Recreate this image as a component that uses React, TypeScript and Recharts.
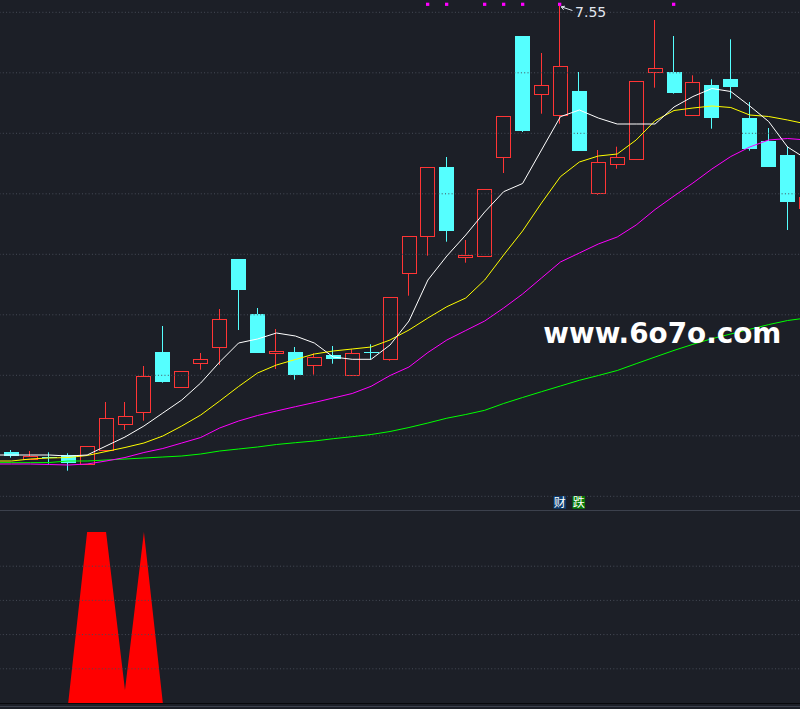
import React from 'react';
import { ComposedChart, Bar, Line, Area, XAxis, YAxis, ReferenceLine } from 'recharts';

// ---- data (index 0 is a lead-in day whose candle lies left of the window) ----
const days = ['d00','d01','d02','d03','d04','d05','d06','d07','d08','d09','d10','d11','d12','d13','d14','d15','d16','d17','d18','d19','d20','d21','d22','d23','d24','d25','d26','d27','d28','d29','d30','d31','d32','d33','d34','d35','d36','d37','d38','d39','d40','d41','d42','d43'];

const open = [null,3.09,3.023,3.045,3.063,2.973,3.107,3.367,3.487,4.09,3.737,3.977,4.137,5.02,4.47,4.077,4.09,3.963,4.06,3.863,4.09,4.017,4.877,5.247,5.94,5.043,5.053,6.037,7.25,6.673,6.463,6.70,5.677,5.967,6.023,6.887,6.89,6.463,6.76,6.82,6.43,6.20,6.06,5.527];
const close = [null,3.053,3.05,3.042,2.983,3.15,3.43,3.447,3.847,3.793,3.897,4.017,4.417,4.713,4.083,4.10,3.86,4.04,4.023,4.077,4.077,4.637,5.247,5.937,5.303,5.06,5.717,6.447,6.303,6.757,6.947,6.103,5.987,6.037,6.797,6.927,6.683,6.787,6.433,6.74,6.12,5.943,5.593,5.643];
const high = [null,3.11,3.10,3.087,3.077,3.15,3.59,3.59,3.95,4.35,3.897,4.08,4.52,5.02,4.53,4.32,4.14,4.077,4.15,4.117,4.167,4.637,5.247,5.937,6.04,5.21,5.717,6.447,7.25,7.08,7.55,6.89,6.11,6.143,6.797,7.41,7.25,6.857,6.817,7.217,6.59,6.33,6.143,5.643];
const low = [null,3.033,3.023,2.973,2.903,2.973,3.107,3.31,3.403,3.783,3.737,3.913,3.96,4.31,4.083,3.92,3.813,3.863,3.973,3.863,4.017,4.003,4.653,5.053,5.193,4.983,5.053,5.88,6.29,6.473,6.373,6.103,5.66,5.923,6.023,6.733,6.673,6.463,6.323,6.623,6.103,5.943,5.31,5.527];

const ma5 = [3.06,3.06,3.06,3.06,3.05,3.06,3.15,3.24,3.35,3.48,3.61,3.78,3.99,4.18,4.22,4.28,4.25,4.18,4.04,4.017,4.017,4.16,4.40,4.81,5.05,5.26,5.49,5.693,5.775,6.11,6.443,6.51,6.43,6.37,6.37,6.37,6.54,6.645,6.725,6.695,6.55,6.395,6.14,6.02];
const ma10 = [3.00,3.00,3.02,3.03,3.035,3.055,3.095,3.135,3.18,3.25,3.35,3.46,3.60,3.745,3.88,3.96,4.015,4.07,4.10,4.12,4.14,4.21,4.31,4.43,4.543,4.63,4.81,5.06,5.30,5.58,5.843,5.99,6.05,6.07,6.21,6.403,6.505,6.53,6.55,6.535,6.46,6.445,6.41,6.37];
const ma20 = [2.97,2.97,2.97,2.965,2.96,2.97,3.00,3.035,3.085,3.125,3.18,3.235,3.33,3.40,3.455,3.50,3.543,3.585,3.63,3.675,3.747,3.855,3.94,4.085,4.21,4.305,4.40,4.53,4.67,4.83,4.99,5.08,5.17,5.24,5.36,5.515,5.65,5.78,5.92,6.045,6.14,6.21,6.225,6.21];
const ma60 = [2.983,2.983,2.983,2.985,3.00,3.00,3.01,3.02,3.03,3.04,3.05,3.07,3.10,3.12,3.14,3.165,3.183,3.20,3.223,3.243,3.265,3.295,3.335,3.38,3.428,3.465,3.507,3.575,3.635,3.693,3.75,3.807,3.855,3.905,3.973,4.04,4.106,4.167,4.223,4.27,4.317,4.364,4.405,4.43];

const signal = [0,0,0,0,0,1,1,0.076,1,0,0,0,0,0,0,0,0,0,0,0,0,0,0,0,0,0,0,0,0,0,0,0,0,0,0,0,0,0,0,0,0,0,0,0];

const topMarkDays = ['d23','d24','d26','d27','d28','d30','d36'];
const topMarkLevel = 7.568;
const tagDays = ['d30','d31'];
const tagTexts = ['财','跌'];
const tagColors = ['#0b3b6e','#087a08'];
const tagLevel = 2.585;
const peakDay = 'd30';

const priceDomain = [2.51, 7.61];
const gridPrices = [7.487, 6.882, 6.277, 5.672, 5.067, 4.462, 3.857, 3.252, 2.647];
const signalDomain = [0, 1.1228];
const signalGrid = [0.2, 0.4, 0.6, 0.8];

// ---- styles ----
const BG = '#1c1f27';
const RED = '#ff3535';
const CYAN = '#55ffff';
const GRID = '#474c58';
const CHART_W = 833;
const HALF_BAND = CHART_W / days.length / 2;

const data = days.map((d, i) => {
  const ti = tagDays.indexOf(d);
  return {
    day: d,
    open: open[i], close: close[i], high: high[i], low: low[i],
    ma5: ma5[i], ma10: ma10[i], ma20: ma20[i], ma60: ma60[i],
    signal: signal[i],
    top: topMarkDays.includes(d) ? topMarkLevel : null,
    tag: ti >= 0 ? tagLevel : null,
    tagText: ti >= 0 ? tagTexts[ti] : null,
    tagColor: ti >= 0 ? tagColors[ti] : null,
    peak: d === peakDay ? high[i] : null,
  };
});

const Candle = (props: any) => {
  const { x, y, width, height, payload } = props;
  if (!payload || payload.open == null || y == null) return <g />;
  const { open: o, close: c, high: h, low: l } = payload;
  const top = Math.min(y, y + height);
  const span = Math.abs(height);
  const px = (v: number) => top + ((h - v) / (h - l)) * span;
  const cx = Math.round(x + width / 2) - 0.5;
  const up = c >= o;
  const yTop = px(Math.max(o, c));
  const yBot = px(Math.min(o, c));
  const yHigh = px(h);
  const yLow = px(l);
  const left = Math.round(x);
  const w = Math.round(width);
  if (up) {
    const bt = Math.round(yTop) + 0.5;
    const bb = Math.max(Math.round(yBot) + 0.5, bt + 1);
    return (
      <g>
        {yHigh < bt - 0.5 && <line x1={cx} x2={cx} y1={yHigh} y2={bt} stroke={RED} strokeWidth={1} />}
        {yLow > bb + 0.5 && <line x1={cx} x2={cx} y1={bb} y2={yLow} stroke={RED} strokeWidth={1} />}
        <rect x={left + 0.5} y={bt} width={w - 1} height={bb - bt} fill="none" stroke={RED} strokeWidth={1} />
      </g>
    );
  }
  const bt = Math.round(yTop);
  const bh = Math.max(Math.round(yBot) - bt, 1);
  return (
    <g>
      <line x1={cx} x2={cx} y1={yHigh} y2={yLow} stroke={CYAN} strokeWidth={1} />
      <rect x={left} y={bt} width={w} height={bh} fill={CYAN} />
    </g>
  );
};

const TopDot = (p: any) => {
  if (p.value == null || p.cy == null) return <g key={`t${p.index}`} />;
  return <rect key={`t${p.index}`} x={Math.round(p.cx) - 2} y={p.cy - 1.5} width={3.3} height={3.2} fill="#ff00ff" />;
};

const TagDot = (p: any) => {
  if (p.value == null || p.cy == null) return <g key={`g${p.index}`} />;
  const { cx, cy, payload } = p;
  return (
    <g key={`g${p.index}`}>
      <rect x={cx - 6.9} y={cy - 6.5} width={12.6} height={12.8} fill={payload.tagColor} />
      <text x={cx - 0.6} y={cy + 4.6} textAnchor="middle" fontSize={12} fill="#ffffff" fontFamily="'Noto Sans CJK SC', sans-serif">{payload.tagText}</text>
    </g>
  );
};

const PeakDot = (p: any) => {
  if (p.value == null || p.cy == null) return <g key={`p${p.index}`} />;
  const { cx, cy, value } = p;
  const c = '#e2e7f0';
  return (
    <g key={`p${p.index}`}>
      <line x1={cx + 0.8} y1={cy + 0.8} x2={cx + 12} y2={cy + 4.5} stroke={c} strokeWidth={1} />
      <polyline points={`${cx + 4.5},${cy + 0.2} ${cx + 0.8},${cy + 0.8} ${cx + 3.2},${cy + 3.8}`} fill="none" stroke={c} strokeWidth={1} />
      <text x={cx + 14.7} y={cy + 11.3} fill={c} fontSize={14} fontFamily="'DejaVu Sans', sans-serif">{Number(value).toFixed(2)}</text>
    </g>
  );
};

export default function App() {
  return (
    <div style={{ position: 'fixed', left: 0, top: 0, width: 800, height: 709, background: BG, overflow: 'hidden' }}>
      <div style={{ position: 'absolute', left: -17, top: 0 }}>
        <ComposedChart width={CHART_W} height={510} data={data} margin={{ top: 0, right: 0, bottom: 0, left: 0 }}>
          <XAxis dataKey="day" type="category" hide />
          <YAxis type="number" domain={priceDomain} hide allowDataOverflow />
          {gridPrices.map((g) => (
            <ReferenceLine key={g} y={g} stroke={GRID} strokeDasharray="1 2.3" strokeWidth={1} />
          ))}
          <Bar dataKey={(d: any) => (d.open == null ? null : [d.low, d.high])} barSize={15} shape={Candle} isAnimationActive={false} />
          <Line type="linear" dataKey="ma60" stroke="#00ff00" strokeWidth={1} dot={false} activeDot={false} isAnimationActive={false} />
          <Line type="linear" dataKey="ma20" stroke="#ff00ff" strokeWidth={1} dot={false} activeDot={false} isAnimationActive={false} />
          <Line type="linear" dataKey="ma10" stroke="#ffff00" strokeWidth={1} dot={false} activeDot={false} isAnimationActive={false} />
          <Line type="linear" dataKey="ma5" stroke="#ffffff" strokeWidth={1} dot={false} activeDot={false} isAnimationActive={false} />
          <Line type="linear" dataKey="top" stroke="none" dot={TopDot} activeDot={false} isAnimationActive={false} />
          <Line type="linear" dataKey="tag" stroke="none" dot={TagDot} activeDot={false} isAnimationActive={false} />
          <Line type="linear" dataKey="peak" stroke="none" dot={PeakDot} activeDot={false} isAnimationActive={false} />
        </ComposedChart>
      </div>
      <div style={{ position: 'absolute', left: 0, top: 510, width: 800, height: 1, background: '#3c414d' }} />
      <div style={{ position: 'absolute', left: -17, top: 511 }}>
        <ComposedChart width={CHART_W} height={192} data={data} margin={{ top: 0, right: 0, bottom: 0, left: 0 }}>
          <XAxis dataKey="day" type="category" hide padding={{ left: HALF_BAND, right: HALF_BAND }} />
          <YAxis type="number" domain={signalDomain} hide allowDataOverflow />
          {signalGrid.map((g) => (
            <ReferenceLine key={g} y={g} stroke={GRID} strokeDasharray="1 2.3" strokeWidth={1} />
          ))}
          <Area type="linear" dataKey="signal" stroke="none" fill="#ff0000" fillOpacity={1} isAnimationActive={false} activeDot={false} dot={false} />
        </ComposedChart>
      </div>
      <div style={{ position: 'absolute', left: 0, top: 703, width: 800, height: 1, background: '#08090c' }} />
      <div style={{ position: 'absolute', left: 0, top: 706, width: 800, height: 1, background: '#3c414d' }} />
      <svg width={800} height={709} style={{ position: 'absolute', left: 0, top: 0, pointerEvents: 'none' }}>
        <text x={543.3} y={343.3} fill="#ffffff" fontSize={27.5} fontWeight="bold" fontFamily="'DejaVu Sans', sans-serif" textLength={238} lengthAdjust="spacingAndGlyphs">www.6o7o.com</text>
      </svg>
    </div>
  );
}
